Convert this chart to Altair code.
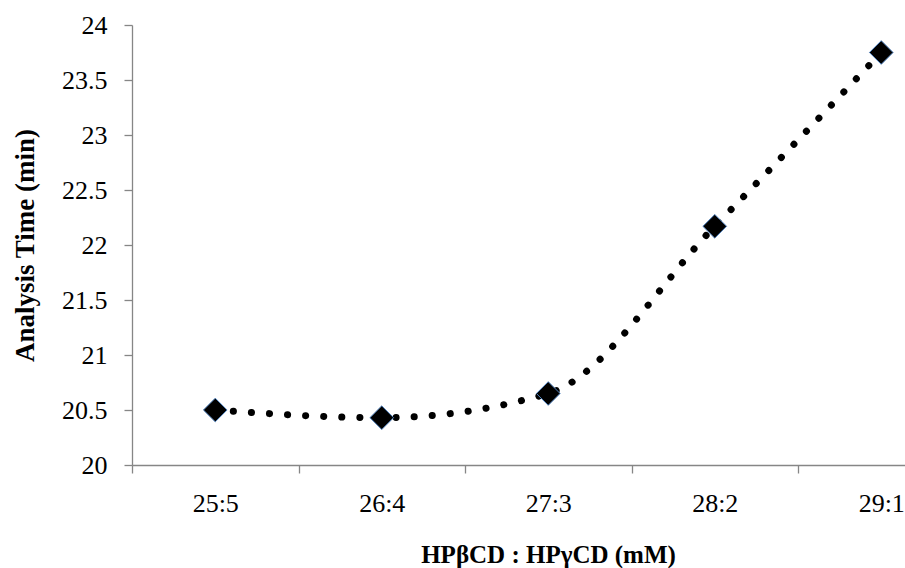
import altair as alt
import pandas as pd

categories = ["25:5", "26:4", "27:3", "28:2", "29:1"]
analysis_time = [20.5, 20.43, 20.65, 22.17, 23.75]
y_ticks = [20, 20.5, 21, 21.5, 22, 22.5, 23, 23.5, 24]

df = pd.DataFrame({
    "idx": list(range(len(categories))),
    "cat": categories,
    "time": analysis_time,
})

FONT = "Liberation Serif"
AXIS_GRAY = "#868686"
band = 166.5
plot_w = 773
plot_h = 440
x_max = -0.5 + plot_w / band

label_js = "[" + ",".join("'" + c + "'" for c in categories) + "]"

common_axis = dict(
    grid=False,
    tickSize=8,
    domainColor=AXIS_GRAY,
    tickColor=AXIS_GRAY,
    domainWidth=1.3,
    tickWidth=1.3,
    labelFont=FONT,
    labelFontSize=26,
    labelColor="black",
    titleColor="black",
    titleFont=FONT,
    titleFontWeight="bold",
)

x_enc = alt.X(
    "idx:Q",
    scale=alt.Scale(domain=[-0.5, x_max], nice=False, zero=False),
    axis=alt.Axis(
        values=[i - 0.5 for i in range(len(categories))],
        labelExpr=label_js + "[round(datum.value + 0.5)]",
        labelOffset=band / 2,
        labelFlush=False,
        labelOverlap=False,
        labelBound=False,
        labelPadding=17,
        title="HPβCD : HPγCD (mM)",
        titleFontSize=25,
        titleBaseline="alphabetic",
        titleX=416,
        titleY=97,
        titleAnchor="middle",
        titleAlign="center",
        **common_axis,
    ),
)

y_enc = alt.Y(
    "time:Q",
    scale=alt.Scale(domain=[20, 24], nice=False, zero=False),
    axis=alt.Axis(
        values=y_ticks,
        format="~g",
        labelPadding=17,
        title="Analysis Time (min)",
        titleFontSize=27,
        titleAngle=-90,
        titleBaseline="middle",
        titleX=-107,
        titleY=plot_h / 2,
        titleAlign="center",
        **common_axis,
    ),
)

line = alt.Chart(df).mark_line(
    color="black",
    strokeWidth=7,
    strokeDash=[0.1, 18],
    strokeCap="round",
    interpolate="monotone",
).encode(x=x_enc, y=y_enc)

points = alt.Chart(df).mark_point(
    shape="diamond",
    filled=True,
    size=560,
    color="black",
    stroke="#4f81bd",
    strokeWidth=1,
    opacity=1,
).encode(x="idx:Q", y="time:Q")

chart = (
    alt.layer(line, points)
    .properties(
        width=plot_w,
        height=plot_h,
        background="white",
        autosize=alt.AutoSizeParams(type="none"),
        padding={"left": 132, "top": 25, "right": 0, "bottom": 103},
    )
    .configure_view(stroke=None)
)

chart.save("out.html", embed_options={"renderer": "svg", "actions": False})
